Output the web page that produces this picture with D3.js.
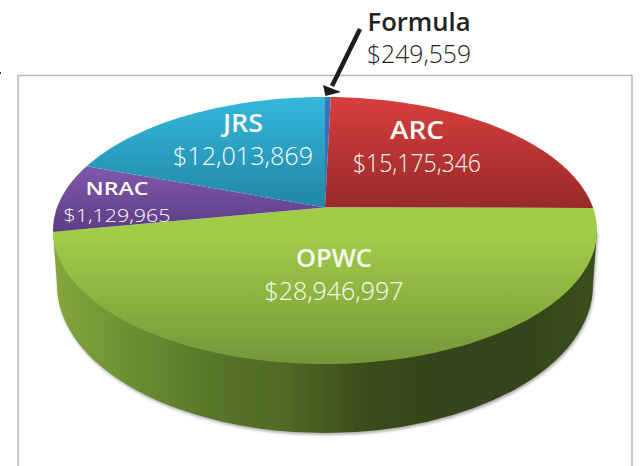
<!DOCTYPE html>
<html>
<head>
<meta charset="utf-8">
<script src="https://cdnjs.cloudflare.com/ajax/libs/d3/7.8.5/d3.min.js"></script>
<style>
  html, body { margin: 0; padding: 0; background: #fff; }
  svg { display: block; }
  text { font-family: "Open Sans", sans-serif; text-anchor: middle; }
</style>
</head>
<body>
<div id="chart"></div>
<script>
const names = ["Formula", "ARC", "OPWC", "NRAC", "JRS"];
const amounts = ["$249,559", "$15,175,346", "$28,946,997", "$1,129,965", "$12,013,869"];
// wedge sizes as drawn; the NRAC wedge in the picture is bigger than its label says
const drawnValues = [249559, 15175346, 28946997, 5150000, 12013869];
const topColors = ["#3a78cc", "#d83f3d", "#a0cc47", "#8159ad", "#33b8dc"];
const bottomColors = ["#3a70bc", "#982a2a", "#76973a", "#5c3d84", "#2186a6"];
const wallStops = ["#84a63c", "#6c8e32", "#587628", "#4e6a25", "#3a4c1a", "#35441a", "#35441a", "#3b4f1b"];

const width = 641, height = 466;
const cx = 325, cy = 230.5, rx = 272, ry = 133.5;
const apexLift = 23;      // slices meet above the middle of the ellipse
const k = apexLift / ry;  // perspective strength
const wallCy = 285, wallRx = 268, wallRy = 148;

const svg = d3.select("#chart").append("svg")
  .attr("width", width)
  .attr("height", height);
const defs = svg.append("defs");

// circle angle -> point on the tilted disc
function project(a, r) {
  const u = r * Math.sin(a), v = -r * Math.cos(a);
  const w = 1 - k * v;
  return [cx + rx * Math.sqrt(1 - k * k) * u / w, cy + (ry * v - apexLift) / w];
}

svg.append("rect")
  .attr("x", 18).attr("y", 75.5)
  .attr("width", 614).attr("height", 420)
  .attr("fill", "#fff")
  .attr("stroke", "#b8b8b8")
  .attr("stroke-width", 1.5);
svg.append("rect")
  .attr("x", 0).attr("y", 72)
  .attr("width", 1).attr("height", 2)
  .attr("fill", "#333");

// side wall
const wallGrad = defs.append("linearGradient")
  .attr("id", "wall")
  .attr("gradientUnits", "userSpaceOnUse")
  .attr("x1", 57).attr("x2", 597).attr("y1", 0).attr("y2", 0);
wallStops.forEach((c, i) => {
  wallGrad.append("stop")
    .attr("offset", i / (wallStops.length - 1))
    .attr("stop-color", c);
});
defs.append("filter").attr("id", "blur")
  .attr("x", "-5%").attr("y", "-5%").attr("width", "110%").attr("height", "110%")
  .append("feGaussianBlur").attr("stdDeviation", 1.5);

const wallPath = `M${cx - rx},${cy} L${cx - wallRx},${wallCy}` +
  ` A${wallRx},${wallRy} 0 0 0 ${cx + wallRx},${wallCy} L${cx + rx},${cy} Z`;
svg.append("path")
  .attr("d", wallPath)
  .attr("fill", "#888")
  .attr("opacity", 0.7)
  .attr("transform", "translate(1,2)")
  .attr("filter", "url(#blur)");
svg.append("path")
  .attr("d", wallPath)
  .attr("fill", "url(#wall)");

// top face
const pie = d3.pie().sort(null).value(d => d);
const line = d3.line();
const arcs = pie(drawnValues);
const gradBox = [[97, 112], [97, 208], [208, 362], [165, 232], [97, 208]];

arcs.forEach((d, i) => {
  const g = defs.append("linearGradient")
    .attr("id", "slice" + i)
    .attr("gradientUnits", "userSpaceOnUse")
    .attr("x1", 0).attr("x2", 0)
    .attr("y1", gradBox[i][0]).attr("y2", gradBox[i][1]);
  g.append("stop").attr("offset", 0).attr("stop-color", topColors[i]);
  if (i == 2) g.append("stop").attr("offset", 0.2).attr("stop-color", topColors[i]);
  g.append("stop").attr("offset", 1).attr("stop-color", bottomColors[i]);
});

svg.selectAll("path.slice")
  .data(arcs)
  .enter().append("path")
  .attr("class", "slice")
  .attr("fill", (d, i) => "url(#slice" + i + ")")
  .attr("d", d => {
    const n = Math.max(2, Math.ceil((d.endAngle - d.startAngle) * 40));
    const pts = d3.range(n + 1).map(j =>
      project(d.startAngle + (d.endAngle - d.startAngle) * j / n, 1));
    return line([project(0, 0)].concat(pts)) + "Z";
  });

// arrow
svg.append("line")
  .attr("x1", 360).attr("y1", 29)
  .attr("x2", 332).attr("y2", 86)
  .attr("stroke", "#1c1c1c")
  .attr("stroke-width", 4.5);
svg.append("path")
  .attr("d", "M323,85 L341,92 L325.5,96 Z")
  .attr("fill", "#1c1c1c");

// labels
const labelX = [419, 417, 334, 117, 243];
const nameY = [31, 139, 267, 195, 132];
const amountY = [63, 172, 300, 222, 165];
const nameSize = [25, 26, 26, 18, 25];
const amountSize = [25, 25, 26, 19, 25];
const amountW = [104, 128, 139, 107, 140];
const nameW = [103, 54, 76, 63, 40];

names.forEach((n, i) => {
  const fill = i == 0 ? "#222" : "#fafcf6";
  svg.append("text")
    .attr("x", labelX[i]).attr("y", nameY[i])
    .attr("font-size", nameSize[i])
    .attr("font-weight", 600)
    .attr("fill", fill)
    .attr("textLength", nameW[i])
    .attr("lengthAdjust", "spacingAndGlyphs")
    .text(n);
  svg.append("text")
    .attr("x", labelX[i]).attr("y", amountY[i])
    .attr("font-size", amountSize[i])
    .attr("font-weight", 300)
    .attr("fill", fill)
    .attr("textLength", amountW[i])
    .attr("lengthAdjust", "spacingAndGlyphs")
    .text(amounts[i]);
});
</script>
</body>
</html>
